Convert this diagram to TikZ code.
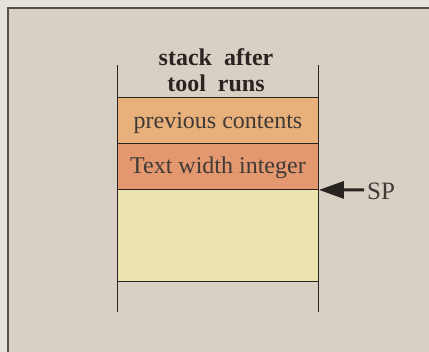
\documentclass[tikz,border=0pt]{standalone}
\usepackage{fontspec}
\setmainfont{Liberation Serif}
\usetikzlibrary{arrows.meta}
\definecolor{outbg}{HTML}{E6E2DA}
\definecolor{inbg}{HTML}{D8D0C4}
\definecolor{boxA}{HTML}{E8B07A}
\definecolor{boxB}{HTML}{E39870}
\definecolor{boxC}{HTML}{EDE3AE}
\definecolor{ink}{HTML}{2A2420}
\tikzset{
  cell/.style={draw=ink, line width=0.9pt, minimum width=201pt, minimum height=46pt, inner sep=0pt, anchor=north west},
  celltext/.style={font=\fontsize{24}{26}\selectfont, text=ink!90, inner sep=0pt},
  rail/.style={draw=ink, line width=0.9pt},
}
\begin{document}
\begin{tikzpicture}[x=1pt,y=1pt]
\useasboundingbox (0,0) rectangle (429,352);
\fill[outbg] (0,0) rectangle (429,352);
\fill[inbg] (8,0) rectangle (429,344);
\draw[ink!80, line width=1.3pt] (8,0) -- (8,344) -- (429,344);
\coordinate (lt) at (117,287);
\coordinate (lb) at (117,40);
\coordinate (rt) at (318,287);
\coordinate (rb) at (318,40);
\node[cell, fill=boxA] (b1) at (117,255) {};
\node[cell, fill=boxB] (b2) at (117,209) {};
\node[cell, fill=boxC, minimum height=92pt] (b3) at (117,163) {};
\node[celltext, anchor=base] (t1) at ([yshift=-8pt]b1.center) {previous contents};
\node[celltext, anchor=base] (t2) at ([yshift=-7pt]b2.center) {Text width integer};
\draw[rail] (lt) -- (lb);
\draw[rail] (rt) -- (rb);
\node[font=\bfseries\fontsize{24}{26}\selectfont, text=ink, align=center] (title) at (216,282) {stack\ \ after\\tool\ \ runs};
\node[font=\fontsize{25}{26}\selectfont, text=ink!90, anchor=west, inner sep=0pt] (sp) at (367,161) {SP};
\draw[ink, line width=3pt, -{Triangle[length=25pt,width=17pt]}] (sp.west) ++(-3,1) coordinate (spt) (spt) -- (b2.south east);
\end{tikzpicture}
\end{document}
